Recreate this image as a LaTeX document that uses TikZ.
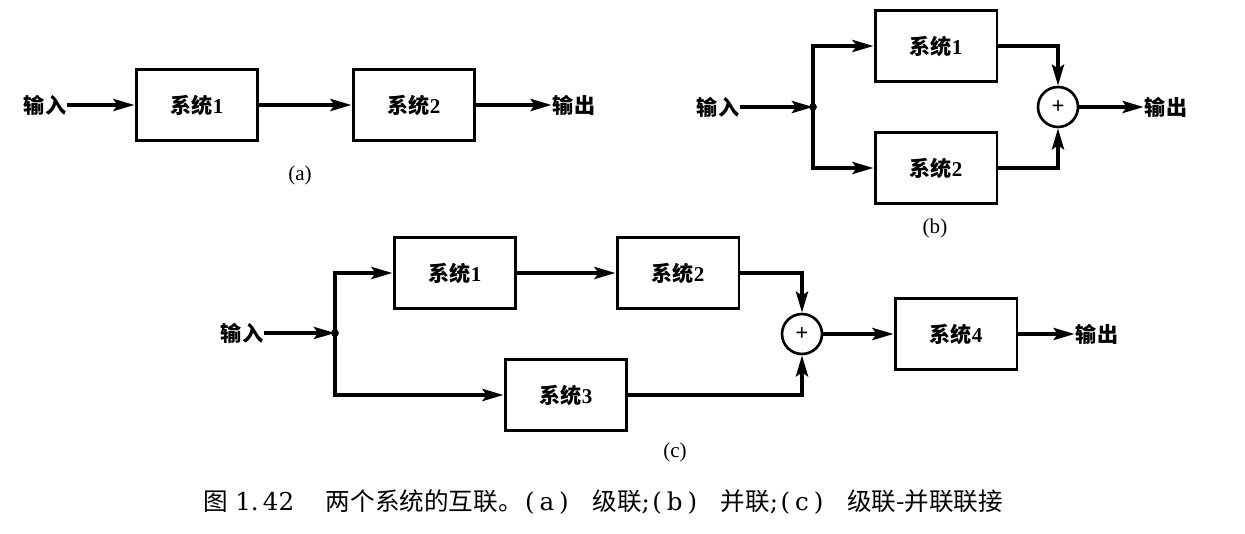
\documentclass[tikz,border=0pt]{standalone}
\usepackage{fontspec}
\setmainfont{Liberation Serif}
\newfontfamily\cjk{Noto Sans CJK SC}
\newfontfamily\capfont{DejaVu Serif}
\newcommand\capl[1]{\hspace{0.1em}{\capfont(\hspace{0.2em}#1\hspace{0.2em})}\hspace{0.3em plus 1fil}}
\usetikzlibrary{arrows.meta}
\tikzset{
  sysbox/.style={draw,line width=1.7pt,minimum width=2.44cm,minimum height=1.42cm,inner sep=0pt,font=\fontsize{12}{14}\selectfont\bfseries},
  sumnode/.style={draw,circle,line width=1.5pt,minimum size=0.8cm,inner sep=0pt,font=\fontsize{13}{14}\selectfont\bfseries},
  io/.style={inner sep=0.5pt,font=\cjk\bfseries\fontsize{12}{14}\selectfont},
  sublbl/.style={inner sep=0pt,font=\fontsize{12}{14}\selectfont},
  sig/.style={line width=2.2pt,-{Stealth[length=4.2mm,width=2.4mm,inset=0.8mm]}},
}
\begin{document}
\begin{tikzpicture}[x=0.02cm,y=-0.02cm]
\useasboundingbox (0,0) rectangle (1245,534);
\foreach \nm/\px/\py/\lb in {a1/197/105/1,a2/414/105/2,b1/936/46/1,b2/936/168/2,c1/455/273/1,c2/678/273/2,c3/566/395/3,c4/956/334/4}{\node[sysbox] (\nm) at (\px,\py) {{\cjk 系统}\lb};}
\foreach \nm/\px/\py in {sb/1058/107,sc/802/334}{\node[sumnode] (\nm) at (\px,\py) {+};}
\foreach \nm/\px/\py/\lb in {ina/45/105/输入,outa/574/105/输出,inb/718/107/输入,outb/1166/107/输出,inc/242/333/输入,outc/1097/334/输出}{\node[io] (\nm) at (\px,\py) {\lb};}
\foreach \nm/\px/\py/\lb in {la/300/175/a,lb/935/228/b,lc/675/452/c}{\node[sublbl] (\nm) at (\px,\py) {(\lb)};}
\coordinate (jb) at (813,107);
\coordinate (jc) at (335,333);
\draw[sig] (ina.east)--(a1.west);
\draw[sig] (a1.east)--(a2.west);
\draw[sig] (a2.east)--(outa.west);
\draw[sig] (inb.east)--(jb);
\draw[sig] (jb)|-(b1.west);
\draw[sig] (jb)|-(b2.west);
\draw[sig] (b1.east)-|(sb.north);
\draw[sig] (b2.east)-|(sb.south);
\draw[sig] (sb.east)--(outb.west);
\fill (jb) circle[radius=2.2pt];
\draw[sig] (inc.east)--(jc);
\draw[sig] (jc)|-(c1.west);
\draw[sig] (jc)|-(c3.west);
\draw[sig] (c1.east)--(c2.west);
\draw[sig] (c2.east)-|(sc.north);
\draw[sig] (c3.east)-|(sc.south);
\draw[sig] (sc.east)--(c4.west);
\draw[sig] (c4.east)--(outc.west);
\fill (jc) circle[radius=2.2pt];
\node[anchor=west,inner sep=0pt,font=\cjk\fontsize{14}{16}\selectfont] (cap) at (203,502) {\makebox[16cm][s]{图\hspace{0.3em}{\capfont 1.\,42}\hspace{0.3em plus 1.5fil}两个系统的互联。\capl{a}级联{\capfont;}\capl{b}并联{\capfont;}\capl{c}级联-并联联接}};
\end{tikzpicture}
\end{document}
